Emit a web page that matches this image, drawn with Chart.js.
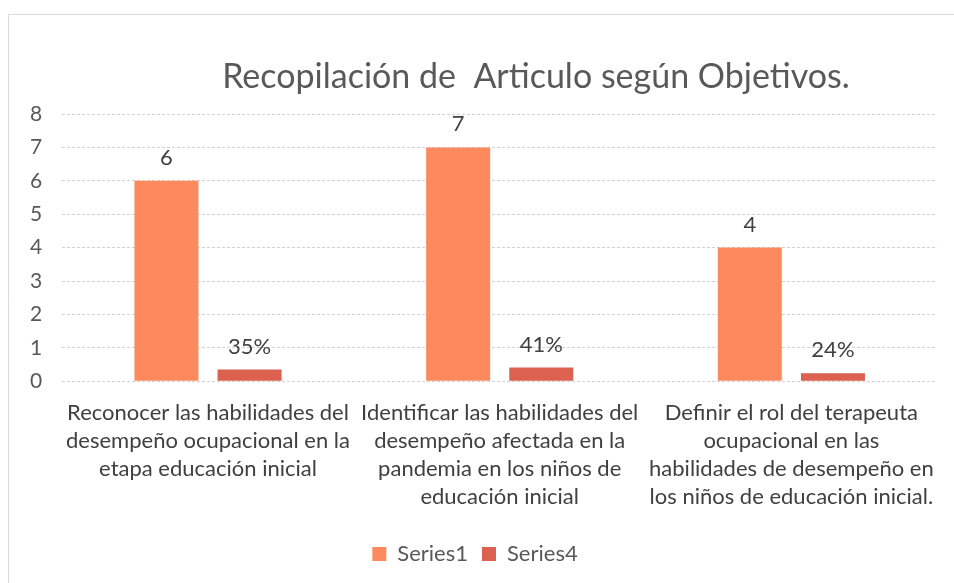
<!DOCTYPE html>
<html>
<head>
<meta charset="utf-8">
<script src="https://cdn.jsdelivr.net/npm/chart.js@4/dist/chart.umd.min.js"></script>
<style>
  html, body { margin: 0; padding: 0; background: #fff; }
  #wrap { width: 954px; height: 583px; position: relative; }
</style>
</head>
<body>
<div id="wrap"><canvas id="objetivosChart"></canvas></div>
<script>
// === Data ===
const categorias = [
  ['Reconocer las habilidades del', 'desempeño ocupacional en la', 'etapa educación inicial'],
  ['Identificar las habilidades del', 'desempeño afectada en la', 'pandemia en los niños de', 'educación inicial'],
  ['Definir el rol del terapeuta', 'ocupacional en las', 'habilidades de desempeño en', 'los niños de educación inicial.']
];
const series1 = [6, 7, 4];
const series4 = [0.35, 0.41, 0.24];
const yTicks = [0, 1, 2, 3, 4, 5, 6, 7, 8];
const titulo = 'Recopilación de  Articulo según Objetivos.';

const FONT = 'Lato, "Open Sans", sans-serif';

// === Marco y titulo ===
const marcoPlugin = {
  id: 'marco',
  beforeDraw(chart) {
    const c = chart.ctx;
    c.save();
    c.strokeStyle = '#d9d9d9';
    c.lineWidth = 1;
    c.beginPath();
    c.moveTo(8.5, chart.height);
    c.lineTo(8.5, 14.5);
    c.lineTo(chart.width, 14.5);
    c.stroke();
    c.restore();
  },
  afterDraw(chart) {
    const c = chart.ctx;
    c.save();
    c.font = '34px ' + FONT;
    c.fillStyle = '#595959';
    c.textAlign = 'center';
    c.textBaseline = 'middle';
    c.fillText(titulo, 536, 77);
    c.restore();
  }
};

// === Etiquetas de datos ===
const etiquetasPlugin = {
  id: 'etiquetas',
  afterDatasetsDraw(chart) {
    const c = chart.ctx;
    c.save();
    c.font = '22px ' + FONT;
    c.fillStyle = '#404040';
    c.textAlign = 'center';
    c.textBaseline = 'bottom';
    chart.data.datasets.forEach((ds, i) => {
      chart.getDatasetMeta(i).data.forEach((el, j) => {
        const v = ds.data[j];
        const txt = i === 1 ? Math.round(v * 100) + '%' : String(v);
        c.fillText(txt, el.x, el.y - 12);
      });
    });
    c.restore();
  }
};

const ctx = document.getElementById('objetivosChart').getContext('2d');
const objetivosChart = new Chart(ctx, {
  type: 'bar',
  data: {
    labels: categorias,
    datasets: [
      { label: 'Series1', data: series1, backgroundColor: '#fd8a5e' },
      { label: 'Series4', data: series4, backgroundColor: '#dc6150' }
    ]
  },
  options: {
    responsive: true,
    maintainAspectRatio: false,
    animation: false,
    layout: { padding: { top: 114, left: 10, right: 14, bottom: 8 } },
    datasets: { bar: { categoryPercentage: 0.57, barPercentage: 0.77 } },
    plugins: {
      legend: {
        display: true,
        position: 'bottom',
        labels: {
          font: { family: FONT, size: 22 },
          color: '#595959',
          boxWidth: 14,
          boxHeight: 14,
          padding: 14
        }
      },
      tooltip: { enabled: false },
      title: { display: false }
    },
    scales: {
      x: {
        grid: { display: false, drawTicks: false },
        border: { display: false },
        ticks: {
          font: { family: FONT, size: 22, lineHeight: 1.27 },
          color: '#404040',
          maxRotation: 0,
          autoSkip: false,
          padding: 18
        }
      },
      y: {
        min: 0,
        max: 8,
        afterBuildTicks(scale) { scale.ticks = yTicks.map(v => ({ value: v })); },
        grid: { color: '#d2d2d2', drawTicks: false },
        border: { display: false, dash: [3, 2] },
        ticks: {
          font: { family: FONT, size: 21 },
          color: '#595959',
          padding: 20
        }
      }
    }
  },
  plugins: [marcoPlugin, etiquetasPlugin]
});
</script>
</body>
</html>
